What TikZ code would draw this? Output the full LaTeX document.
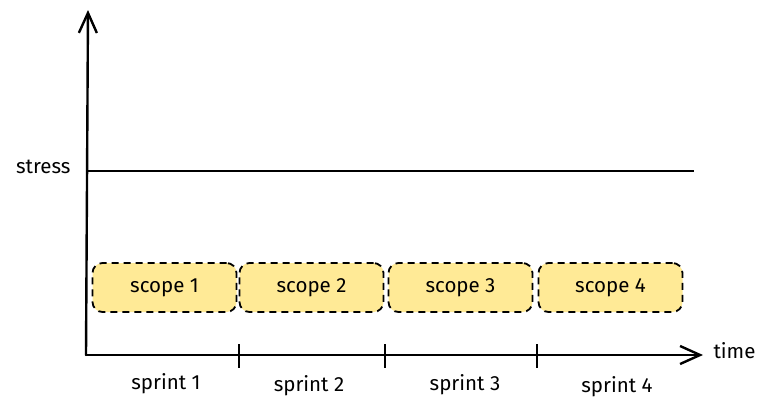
\documentclass[tikz,border=0pt]{standalone}
\usepackage{fontspec}
\setmainfont{Fira Sans}
\usetikzlibrary{arrows.meta}
\definecolor{ccyellow}{RGB}{255,234,150}

\begin{document}
\begin{tikzpicture}[x=1pt,y=-1pt]

  % Styles
  \tikzstyle{axe} = [line width=2.4pt, line cap=round]
  \tikzstyle{fleche} = [axe, -{Straight Barb[length=20pt,width=18pt]}]
  \tikzstyle{etiquette} = [font=\fontsize{20.5}{22}\selectfont]
  \tikzstyle{scopebox} = [draw, dashed, dash pattern=on 7pt off 5pt, line width=1.8pt, rounded corners=10pt, fill=ccyellow, minimum width=144pt, minimum height=49pt, etiquette]

  \useasboundingbox (0,0) rectangle (763,410);

  % Axes
  \coordinate (O) at (86,355);
  \coordinate (ytop) at (88,10);
  \coordinate (xend) at (703,355);
  \draw[fleche] (O) -- (ytop);
  \draw[fleche] (O) -- (xend);
  \node[etiquette, anchor=west] (time) at (710,351) {time};

  % Stress
  \coordinate (s0) at (86,171);
  \coordinate (s1) at (694,171);
  \draw[line width=1.6pt] (s0) -- (s1);
  \node[etiquette, anchor=east] (stress) at (74,167) {stress};

  % Graduations
  \foreach \x in {239,385,537}
    \draw[line width=1.8pt] (\x,344) -- (\x,368);

  % Scopes
  \node[scopebox] (scope1) at (164.5,287.5) {scope 1};
  \node[scopebox] (scope2) at (311.5,287.5) {scope 2};
  \node[scopebox] (scope3) at (460.5,287.5) {scope 3};
  \node[scopebox] (scope4) at (610.5,287.5) {scope 4};

  % Sprints
  \node[etiquette] (sprint1) at (166,384) {sprint 1};
  \node[etiquette] (sprint2) at (309,386) {sprint 2};
  \node[etiquette] (sprint3) at (465,385) {sprint 3};
  \node[etiquette] (sprint4) at (617,387) {sprint 4};

\end{tikzpicture}
\end{document}
